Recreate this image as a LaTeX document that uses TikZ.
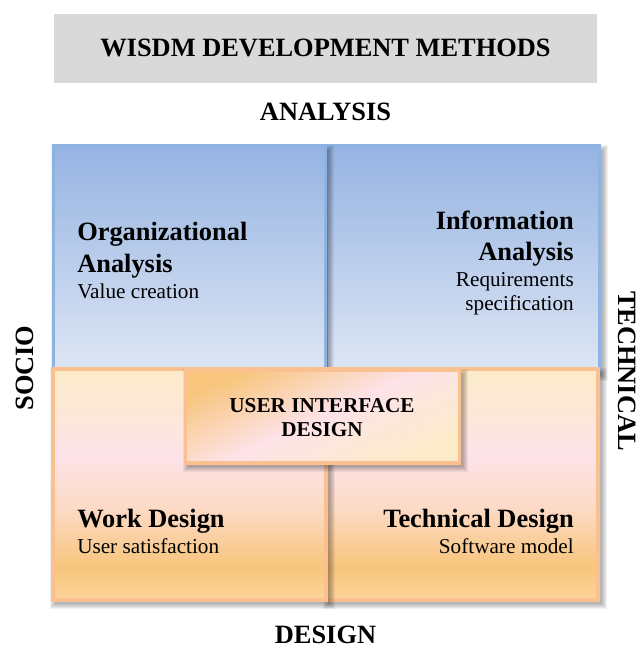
\documentclass[tikz,border=0pt]{standalone}
\usepackage{fontspec}
\setmainfont{Liberation Serif}
\definecolor{titlegray}{HTML}{D9D9D9}
\definecolor{blT}{HTML}{95B3E2}
\definecolor{blB}{HTML}{DEE6F4}
\definecolor{blborder}{HTML}{8DB3E2}
\definecolor{orborder}{HTML}{FAC090}
\definecolor{orA}{HTML}{FBD49A}
\definecolor{orB}{HTML}{F8C57C}
\definecolor{orC}{HTML}{FCDAC6}
\definecolor{orD}{HTML}{FDE3E8}
\definecolor{orE}{HTML}{FCEBC8}
\pgfdeclareverticalshading{blueshade}{100bp}{color(0bp)=(blB); color(25bp)=(blB); color(75bp)=(blT); color(100bp)=(blT)}
\pgfdeclareverticalshading{orangeshade}{100bp}{color(0bp)=(orA); color(25bp)=(orA); color(32bp)=(orB); color(45bp)=(orC); color(56bp)=(orD); color(75bp)=(orE); color(100bp)=(orE)}
\pgfdeclareverticalshading{uishade}{100bp}{color(0bp)=(orB); color(25bp)=(orB); color(50bp)=(orD); color(75bp)=(orE); color(100bp)=(orE)}
\newcommand{\bigf}{\fontsize{19.8}{23}\selectfont\bfseries}
\newcommand{\smallf}{\fontsize{15.9}{19}\selectfont}
\newcommand{\uif}{\fontsize{15.9}{19}\selectfont\bfseries}
% soft shadow: x0 y0 x1 y1 in px
\newcommand{\softshadow}[4]{%
  \foreach \i in {0,1,...,5}{%
    \fill[black, opacity=0.055] ({#1-\i+3},{#2-\i+4}) rectangle ({#3+\i+3},{#4+\i+4});
  }}
\begin{document}
\begin{tikzpicture}[x=0.75pt,y=-0.75pt,
  bluebox/.style={draw=blborder, line width=2.4pt, shading=blueshade, minimum height=169.5pt, inner sep=0pt},
  orbox/.style={draw=orborder, line width=2.8pt, shading=orangeshade, minimum height=173.25pt, inner sep=0pt},
  lbl/.style={inner sep=0pt, font=\bigf},
  sub/.style={inner sep=0pt, font=\smallf}]
\useasboundingbox (0,0) rectangle (637,648);
% title
\node[fill=titlegray, minimum width=407.25pt, minimum height=51.75pt, inner sep=0pt] (title) at (325.5,48.5) {};
\node[lbl, anchor=base] (titletext) at (325.5,57) {WISDM DEVELOPMENT METHODS};
\node[lbl, anchor=base] (analysis) at (325.5,121) {ANALYSIS};
\node[lbl, anchor=base] (design) at (325.5,643) {DESIGN};
\node[lbl, anchor=base, rotate=90] (socio) at (33,368) {SOCIO};
\node[lbl, anchor=base, rotate=-90] (technical) at (618,371) {TECHNICAL};
% top boxes
\softshadow{326}{146}{600}{372}
\node[bluebox, minimum width=204.5pt] (ia) at (463,259) {};
\softshadow{53}{146}{326}{372}
\node[bluebox, minimum width=204pt] (oa) at (189.5,259) {};
% bottom boxes
\softshadow{325}{369}{599}{600}
\node[orbox, minimum width=204.5pt] (td) at (462,484.5) {};
\softshadow{52}{369}{327}{600}
\node[orbox, minimum width=205pt] (wd) at (189.5,484.5) {};
% UI box
\softshadow{185}{370}{460}{463}
\node[draw=orborder, line width=2.8pt, shading=uishade, shading angle=205, minimum width=205.5pt, minimum height=69.75pt, inner sep=0pt] (ui) at (322.5,416.5) {};
% texts
\node[lbl, anchor=base west] (oa1) at (77,240) {Organizational};
\node[lbl, anchor=base west] (oa2) at (77,272.5) {Analysis};
\node[sub, anchor=base west] (oa3) at (77,298) {Value creation};
\node[lbl, anchor=base east] (ia1) at (574,230) {Information};
\node[lbl, anchor=base east] (ia2) at (574,260) {Analysis};
\node[sub, anchor=base east] (ia3) at (574,286) {Requirements};
\node[sub, anchor=base east] (ia4) at (574,310) {specification};
\node[lbl, anchor=base west] (wd1) at (77,527) {Work Design};
\node[sub, anchor=base west] (wd2) at (77,553) {User satisfaction};
\node[lbl, anchor=base east] (td1) at (574,527) {Technical Design};
\node[sub, anchor=base east] (td2) at (574,553) {Software model};
\node[inner sep=0pt, font=\uif, anchor=base] (ui1) at (322,412) {USER INTERFACE};
\node[inner sep=0pt, font=\uif, anchor=base] (ui2) at (322,436) {DESIGN};
\end{tikzpicture}
\end{document}
